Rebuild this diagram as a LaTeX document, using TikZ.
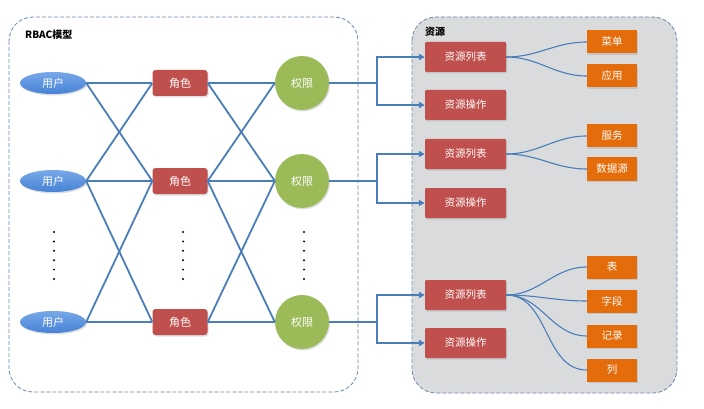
\documentclass[tikz,border=0pt]{standalone}
\usepackage{fontspec}
\setmainfont{Noto Sans CJK SC}
\usetikzlibrary{arrows.meta,shapes.geometric,shadows}
\definecolor{linec}{RGB}{74,126,187}
\definecolor{rolec}{RGB}{192,80,77}
\definecolor{permc}{RGB}{155,187,89}
\definecolor{orangec}{RGB}{228,108,10}
\definecolor{frame}{RGB}{110,135,170}
\definecolor{resbg}{RGB}{218,219,221}
\definecolor{userlight}{RGB}{120,168,232}
\definecolor{userdark}{RGB}{70,130,214}
\tikzset{
  conn/.style={draw=linec,line width=1.8pt},
  arr/.style={conn,-{Triangle[length=6pt,width=6pt]}},
  curve/.style={draw=linec,line width=1.1pt},
  userbox/.style={ellipse,minimum width=66pt,minimum height=22pt,inner sep=0pt,
    top color=userlight,bottom color=userdark,draw=none,text=white,font=\fontsize{11}{12}\selectfont,
    drop shadow={opacity=0.25,shadow xshift=1pt,shadow yshift=-1.5pt}},
  rolebox/.style={rectangle,rounded corners=3pt,minimum width=55pt,minimum height=26pt,inner sep=0pt,
    fill=rolec,text=white,font=\fontsize{11}{12}\selectfont,
    drop shadow={opacity=0.25,shadow xshift=1pt,shadow yshift=-1.5pt}},
  permbox/.style={circle,minimum size=54pt,inner sep=0pt,fill=permc,text=white,
    font=\fontsize{11}{12}\selectfont,
    drop shadow={opacity=0.25,shadow xshift=1pt,shadow yshift=-1.5pt}},
  resbox/.style={rectangle,rounded corners=1pt,minimum width=81pt,minimum height=30pt,inner sep=0pt,
    fill=rolec,text=white,font=\fontsize{10.5}{12}\selectfont,
    drop shadow={opacity=0.25,shadow xshift=1pt,shadow yshift=-1.5pt}},
  leafbox/.style={rectangle,minimum width=50pt,minimum height=23pt,inner sep=0pt,
    fill=orangec,text=white,font=\fontsize{10.5}{12}\selectfont,
    drop shadow={opacity=0.25,shadow xshift=1pt,shadow yshift=-1.5pt}},
  container/.style={draw=frame,dash pattern=on 4pt off 2pt,line width=0.8pt,rounded corners=24pt},
  title/.style={anchor=west,font=\bfseries\fontsize{10}{12}\selectfont,inner sep=0pt},
  dotc/.style={fill=black,circle,minimum size=2.2pt,inner sep=0pt}
}
\begin{document}
\begin{tikzpicture}[x=1pt,y=-1pt]
\useasboundingbox (0,0) rectangle (704,409);
\fill[white] (0,0) rectangle (704,409);
% containers
\path[container,fill=white] (9,17) rectangle (358,392);
\path[container,fill=resbg] (412,17) rectangle (677,393);
\node[title] (t1) at (25,35) {RBAC模型};
\node[title] (t2) at (425,32) {资源};
% nodes
\foreach \i/\y in {1/83,2/181,3/322}{
  \node[userbox] (u\i) at (53,\y) {用户};
  \node[rolebox] (r\i) at (180,\y) {角色};
  \node[permbox] (p\i) at (302,\y) {权限};
}
% dots
\foreach \x/\n in {54/a,183/b,304/c}{
  \foreach \k in {0,...,5}{
    \node[dotc] (d\n\k) at (\x,232+\k*9.4) {};
  }
}
% connectors user-role, role-perm
\foreach \a/\b in {1/1,1/2,2/1,2/2,2/3,3/2,3/3}{
  \draw[conn] (u\a.east) -- (r\b.west);
  \draw[conn] (r\a.east) -- (p\b.west);
}
% resources
\node[resbox] (rl1) at (465.5,57) {资源列表};
\node[resbox] (ro1) at (465.5,105) {资源操作};
\node[resbox] (rl2) at (465.5,154) {资源列表};
\node[resbox] (ro2) at (465.5,203) {资源操作};
\node[resbox] (rl3) at (465.5,295) {资源列表};
\node[resbox] (ro3) at (465.5,343) {资源操作};
% leaves
\node[leafbox] (l1) at (612,42) {菜单};
\node[leafbox] (l2) at (612,76) {应用};
\node[leafbox] (l3) at (612,136) {服务};
\node[leafbox] (l4) at (612,169) {数据源};
\node[leafbox] (l5) at (612,267) {表};
\node[leafbox] (l6) at (612,301) {字段};
\node[leafbox] (l7) at (612,336) {记录};
\node[leafbox] (l8) at (612,370) {列};
% perm -> resources
\coordinate (j1) at (377,83);
\coordinate (j2) at (377,181);
\coordinate (j3) at (377,322);
\foreach \i in {1,2,3}{
  \draw[conn] (p\i.east) -- (j\i);
  \draw[arr] (j\i) |- (rl\i.west);
  \draw[arr] (j\i) |- (ro\i.west);
}
% curves
\draw[curve] (rl1.east) to[out=0,in=180] (l1.west);
\draw[curve] (rl1.east) to[out=0,in=180] (l2.west);
\draw[curve] (rl2.east) to[out=0,in=180] (l3.west);
\draw[curve] (rl2.east) to[out=0,in=180] (l4.west);
\draw[curve] (rl3.east) to[out=0,in=180] (l5.west);
\draw[curve] (rl3.east) to[out=0,in=180] (l6.west);
\draw[curve] (rl3.east) to[out=0,in=180] (l7.west);
\draw[curve] (rl3.east) to[out=0,in=180] (l8.west);
\end{tikzpicture}
\end{document}
